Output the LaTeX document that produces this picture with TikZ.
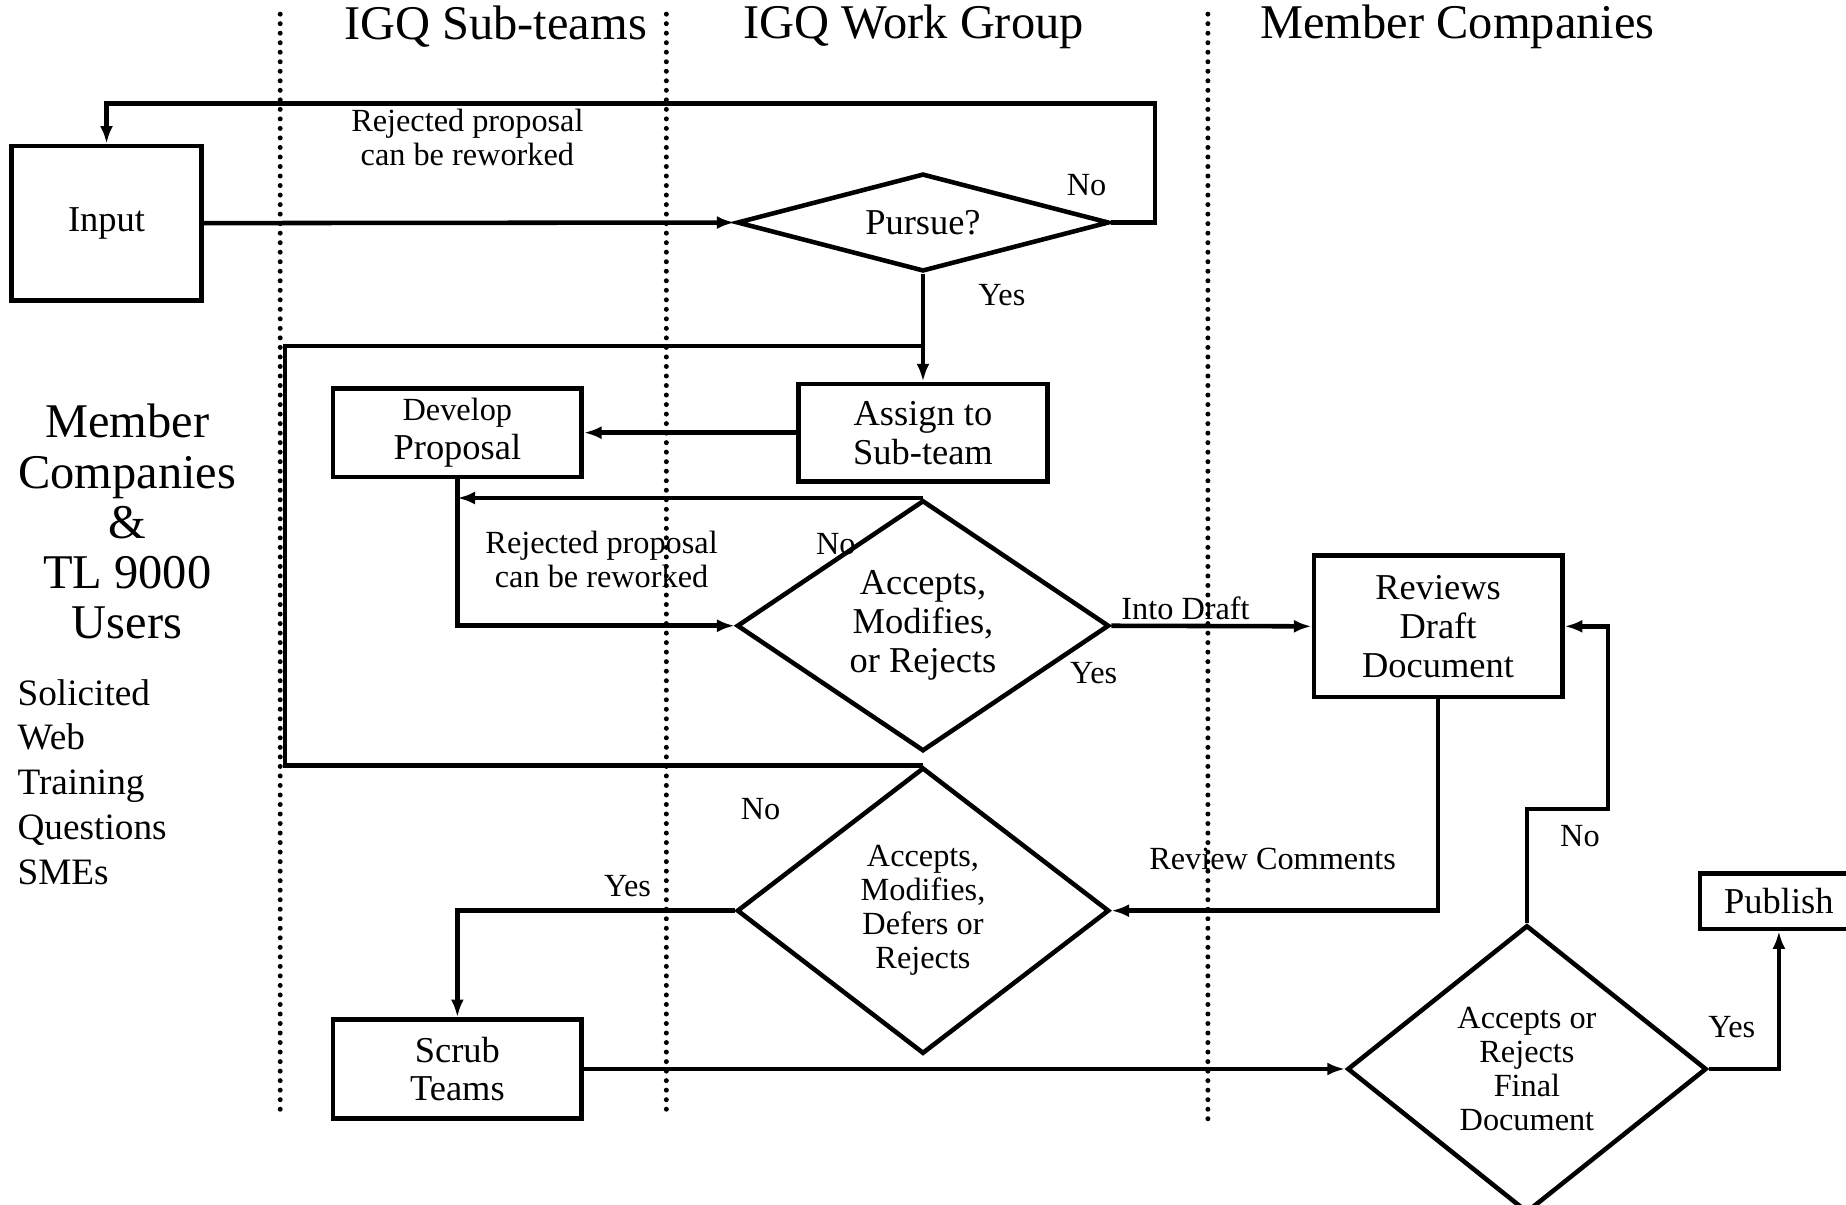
\documentclass[tikz,border=0pt]{standalone}
\usepackage{fontspec}
\setmainfont{Liberation Serif}
\usetikzlibrary{calc,shapes.geometric,arrows.meta}

\newcommand\bigtxt{\fontsize{11.7}{12.1}\selectfont}
\newcommand\midtxt{\fontsize{8.8}{9.4}\selectfont}
\newcommand\smalltxt{\fontsize{7.8}{8.2}\selectfont}

\begin{document}
\begin{tikzpicture}[x=0.01cm,y=-0.01cm,line width=1.1pt,
		>={Latex[length=1.5mm,width=1.1mm]},
		stagebox/.style={draw,rectangle,inner sep=0pt,align=center,font=\midtxt},
		decision/.style={draw,diamond,inner sep=0pt,align=center},
		lane/.style={line width=1.2pt,line cap=round,dash pattern=on 0pt off 2.3pt},
		lbl/.style={inner sep=0pt,align=center,font=\smalltxt}]
				\useasboundingbox (0,0) rectangle (1568,1023);
				\clip (0,0) rectangle (1568,1023);
				
				\draw[lane] (238,12) -- (238,950);
				\draw[lane] (566,12) -- (566,950);
				\draw[lane] (1026,12) -- (1026,958);
				
				\node[font=\bigtxt] (tsub) at (421,23) {IGQ Sub-teams};
				\node[font=\bigtxt] (twork) at (776,23) {IGQ Work Group};
				\node[font=\bigtxt] (tmem) at (1238,23) {Member Companies};
				
				\node[align=center,font=\bigtxt,inner sep=0pt] (users) at (108,443) {Member\\Companies\\\&\\TL 9000\\Users};
				\foreach \t [count=\i from 0] in {Solicited,Web,Training,Questions,SMEs}{
					\node[anchor=base west,inner sep=0pt,font=\fontsize{9}{10.8}\selectfont] (src\i) at (13,599+38*\i) {\t};}
				
				\node[stagebox,minimum width=1.61cm,minimum height=1.31cm] (input) at (90.5,189.5) {Input};
				\node[decision,font=\midtxt,minimum width=3.16cm,minimum height=0.83cm,aspect=3.8] (pursue) at (784,189) {Pursue?};
				\node[stagebox,minimum width=2.11cm,minimum height=0.83cm] (assign) at (784,367.5) {Assign to\\Sub-team};
				\node[stagebox,minimum width=2.11cm,minimum height=0.75cm] (develop) at (388.5,367.5) {{\smalltxt Develop}\\Proposal};
				\node[decision,font=\midtxt,minimum width=3.16cm,minimum height=2.13cm,aspect=1.48] (accept) at (784,531.5) {Accepts,\\Modifies,\\or Rejects};
				\node[stagebox,minimum width=2.11cm,minimum height=1.2cm] (review) at (1221.5,532) {Reviews\\Draft\\Document};
				\node[decision,font=\smalltxt,minimum width=3.16cm,minimum height=2.43cm,aspect=1.3] (decide) at (784,773.5) {Accepts,\\Modifies,\\Defers or\\Rejects};
				\node[stagebox,minimum width=2.11cm,minimum height=0.84cm] (scrub) at (388.5,908) {Scrub\\Teams};
				\node[decision,font=\smalltxt,minimum width=3.05cm,minimum height=2.44cm,aspect=1.25] (final) at (1297,908) {Accepts or\\Rejects\\Final\\Document};
				\node[stagebox,minimum width=1.34cm,minimum height=0.47cm] (publish) at (1511,765.5) {Publish};
				
				\coordinate (noup) at (981,88);
				\coordinate (backL) at (242,294);
				\coordinate (noR) at (1366,687);
				
				\draw[->] (input.east) -- (pursue.west);
				\draw[->] (pursue.east) -| (noup) -| (input.north);
				\draw[->] (pursue.south) -- (assign.north);
				\draw[->] (assign.west) -- (develop.east);
				\draw[->] (develop.south) |- (accept.west);
				\draw[->] (accept.north) -- (develop.south |- accept.north);
				\draw[->] (accept.east) -- (review.west);
				\draw[->] (review.south) |- (decide.east);
				\draw (decide.north) -| (backL) -- (backL -| assign.north);
				\draw[->] (decide.west) -| (scrub.north);
				\draw[->] (scrub.east) -- (final.west);
				\draw[->] (final.north) |- (noR) |- (review.east);
				\draw[->] (final.east) -| (publish.south);
				
				\node[lbl] (rej1) at (397,117) {Rejected proposal\\can be reworked};
				\node[lbl] (no1) at (923,157) {No};
				\node[lbl] (yes1) at (851,251) {Yes};
				\node[lbl] (rej2) at (511,475) {Rejected proposal\\can be reworked};
				\node[lbl] (no2) at (710,462) {No};
				\node[lbl] (draft) at (1007,517) {Into Draft};
				\node[lbl] (yes2) at (929,572) {Yes};
				\node[lbl] (comm) at (1081,730) {Review Comments};
				\node[lbl] (no3) at (646,687) {No};
				\node[lbl] (yes3) at (533,753) {Yes};
				\node[lbl] (no4) at (1342,710) {No};
				\node[lbl] (yes4) at (1471,872) {Yes};
			\end{tikzpicture}
\end{document}
